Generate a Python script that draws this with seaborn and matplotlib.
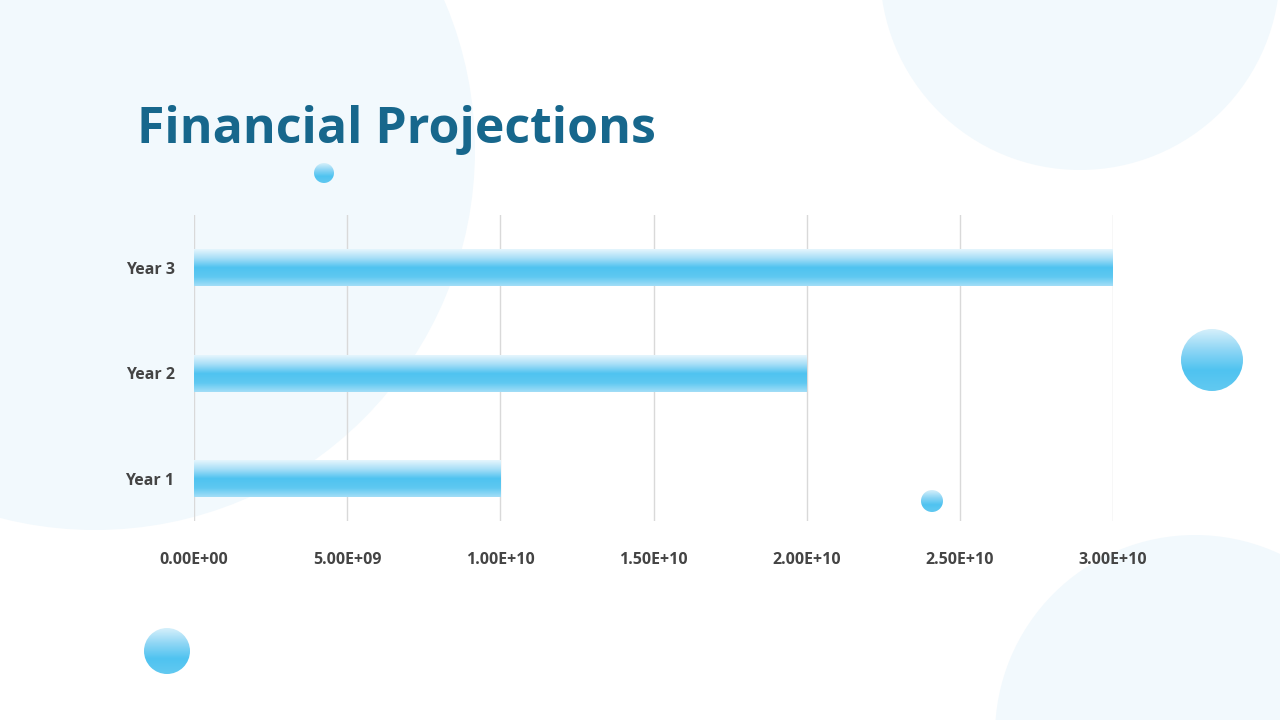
import numpy as np
import matplotlib
matplotlib.use("Agg")
import matplotlib.pyplot as plt
import seaborn as sns
import pandas as pd
from matplotlib.patches import Circle
from matplotlib.colors import LinearSegmentedColormap

categories = ["Year 1", "Year 2", "Year 3"]
values = [1.0e10, 2.0e10, 3.0e10]
xticks = [0, 5e9, 1e10, 1.5e10, 2e10, 2.5e10, 3e10]
xtick_labels = ["0.00E+00", "5.00E+09", "1.00E+10", "1.50E+10", "2.00E+10", "2.50E+10", "3.00E+10"]

plt.rcParams['font.family'] = 'Open Sans'
fig = plt.figure(figsize=(12.8, 7.2), dpi=100)
fig.patch.set_facecolor("white")

# background decorations in pixel coordinates
bg = fig.add_axes([0, 0, 1, 1], zorder=0)
bg.set_xlim(0, 1280)
bg.set_ylim(720, 0)
bg.set_aspect("equal")
bg.axis("off")
pale = "#f2f9fd"
for cx, cy, r in [(95, 150, 380), (1080, -30, 200), (1195, 735, 200)]:
    bg.add_patch(Circle((cx, cy), r, color=pale, lw=0))

grad = LinearSegmentedColormap.from_list("g", ["#d6f0fb", "#8fd6f5", "#4fc3f0", "#62c9f1"])
grad_img = np.linspace(0, 1, 256).reshape(-1, 1)
for cx, cy, r in [(324, 173, 10), (1212, 360, 31), (932, 501, 11), (167, 651, 23)]:
    c = Circle((cx, cy), r, lw=0, color="none")
    bg.add_patch(c)
    im = bg.imshow(grad_img, cmap=grad, extent=[cx - r, cx + r, cy + r, cy - r],
                   aspect="auto", zorder=3)
    im.set_clip_path(c)

fig.text(137 / 1280, 1 - 143 / 720, "Financial Projections", fontsize=36,
         fontweight="bold", color="#17678c", ha="left", va="baseline")

# chart
ax = fig.add_axes([194 / 1280, 1 - 521 / 720, (1113 - 194) / 1280, 306 / 720], zorder=2)
ax.patch.set_alpha(0)
df = pd.DataFrame({"cat": categories, "val": values})
sns.barplot(data=df, x="val", y="cat", order=categories[::-1], orient="h",
            color="#4fc3f0", width=0.35, ax=ax, zorder=2)
ax.set_ylim(2.4, -0.5)
ax.set_xlim(0, 3e10)

bar_grad = LinearSegmentedColormap.from_list("b", ["#e6f6fd", "#a6def7", "#4fc3f0", "#5ec8f1", "#a3def7"])
bimg = np.linspace(0, 1, 256).reshape(-1, 1)
for p in ax.patches:
    x0, y0 = p.get_x(), p.get_y()
    w, h = p.get_width(), p.get_height()
    p.set_facecolor("none")
    im = ax.imshow(bimg, cmap=bar_grad, extent=[x0, x0 + w, y0 + h, y0],
                   aspect="auto", zorder=3)
    im.set_clip_path(p)
ax.set_xlim(0, 3e10)
ax.set_ylim(2.4, -0.5)

ax.set_xticks(xticks)
ax.set_xticklabels(xtick_labels, fontsize=11.5, fontweight="bold", color="#444444")
ax.tick_params(axis="y", labelsize=11.5, labelcolor="#444444", length=0, pad=14)
for t in ax.get_yticklabels():
    t.set_fontweight("bold")
ax.tick_params(axis="x", length=0, pad=22)
ax.grid(axis="x", color="#d9d9d9", lw=1, zorder=0)
ax.set_axisbelow(True)
for s in ax.spines.values():
    s.set_visible(False)
ax.set_xlabel("")
ax.set_ylabel("")

fig.savefig("out.png", dpi=100)
